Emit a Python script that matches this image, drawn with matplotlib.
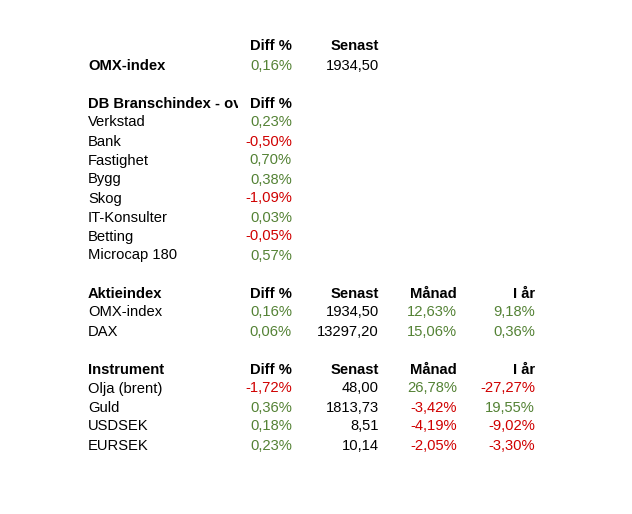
import matplotlib.pyplot as plt
from matplotlib.patches import Rectangle

plt.rcParams['font.family'] = ['Liberation Sans', 'DejaVu Sans']

# data
omx_name = 'OMX-index'
omx_diff = 0.16
omx_senast = 1934.50

bransch_title = 'DB Branschindex - ov'
bransch_names = ['Verkstad', 'Bank', 'Fastighet', 'Bygg', 'Skog',
                 'IT-Konsulter', 'Betting', 'Microcap 180']
bransch_diff = [0.23, -0.50, 0.70, 0.38, -1.09, 0.03, -0.05, 0.57]

aktie_names = ['OMX-index', 'DAX']
aktie_diff = [0.16, 0.06]
aktie_senast = [1934.50, 13297.20]
aktie_manad = [12.63, 15.06]
aktie_iar = [9.18, 0.36]

instr_names = ['Olja (brent)', 'Guld', 'USDSEK', 'EURSEK']
instr_diff = [-1.72, 0.36, 0.18, 0.23]
instr_senast = [48.00, 1813.73, 8.51, 10.14]
instr_manad = [26.78, -3.42, -4.19, -2.05]
instr_iar = [-27.27, 19.55, -9.02, -3.30]

GREEN = '#548235'
RED = '#d00000'
FS = 10.6
DY = 1.5

fig = plt.figure(figsize=(6.32, 5.14), dpi=100)
ax = fig.add_axes([0, 0, 1, 1])
ax.set_xlim(0, 632)
ax.set_ylim(514, 0)
ax.axis('off')

x_lab = 88
x_diff = 292
x_sen = 379
x_man = 457
x_iar = 535


def pct(v):
    return ('%.2f%%' % v).replace('.', ',')


def num(v):
    return ('%.2f' % v).replace('.', ',')


def col(v):
    return RED if v < 0 else GREEN


def txt(x, y, s, ha='left', color='black', bold=False):
    return ax.text(x, y + DY, s, ha=ha, va='center', fontsize=FS, color=color,
                   fontweight='bold' if bold else 'normal')


# OMX block
txt(x_diff, 45, 'Diff %', ha='right', bold=True)
txt(x_sen, 45, 'Senast', ha='right', bold=True)
txt(x_lab, 64, omx_name, bold=True)
txt(x_diff, 64, pct(omx_diff), ha='right', color=col(omx_diff))
txt(x_sen, 64, num(omx_senast), ha='right')

# bransch block (title is cut off by the next cell, like in the sheet)
t = txt(x_lab, 102, bransch_title, bold=True)
t.set_clip_path(Rectangle((80, 90), 158, 25, transform=ax.transData))
t.set_clip_on(True)
txt(x_diff, 102, 'Diff %', ha='right', bold=True)
for i, (n, d) in enumerate(zip(bransch_names, bransch_diff)):
    y = 121 + i * 19
    txt(x_lab, y, n)
    txt(x_diff, y, pct(d), ha='right', color=col(d))


def block(y0, title, names, diff, senast, manad, iar):
    txt(x_lab, y0, title, bold=True)
    for x, h in zip([x_diff, x_sen, x_man, x_iar],
                    ['Diff %', 'Senast', 'Månad', 'I år']):
        txt(x, y0, h, ha='right', bold=True)
    for i in range(len(names)):
        y = y0 + 19 * (i + 1)
        txt(x_lab, y, names[i])
        txt(x_diff, y, pct(diff[i]), ha='right', color=col(diff[i]))
        txt(x_sen, y, num(senast[i]), ha='right')
        txt(x_man, y, pct(manad[i]), ha='right', color=col(manad[i]))
        txt(x_iar, y, pct(iar[i]), ha='right', color=col(iar[i]))


block(292, 'Aktieindex', aktie_names, aktie_diff, aktie_senast,
      aktie_manad, aktie_iar)
block(368, 'Instrument', instr_names, instr_diff, instr_senast,
      instr_manad, instr_iar)

fig.savefig('out.png', dpi=100)
